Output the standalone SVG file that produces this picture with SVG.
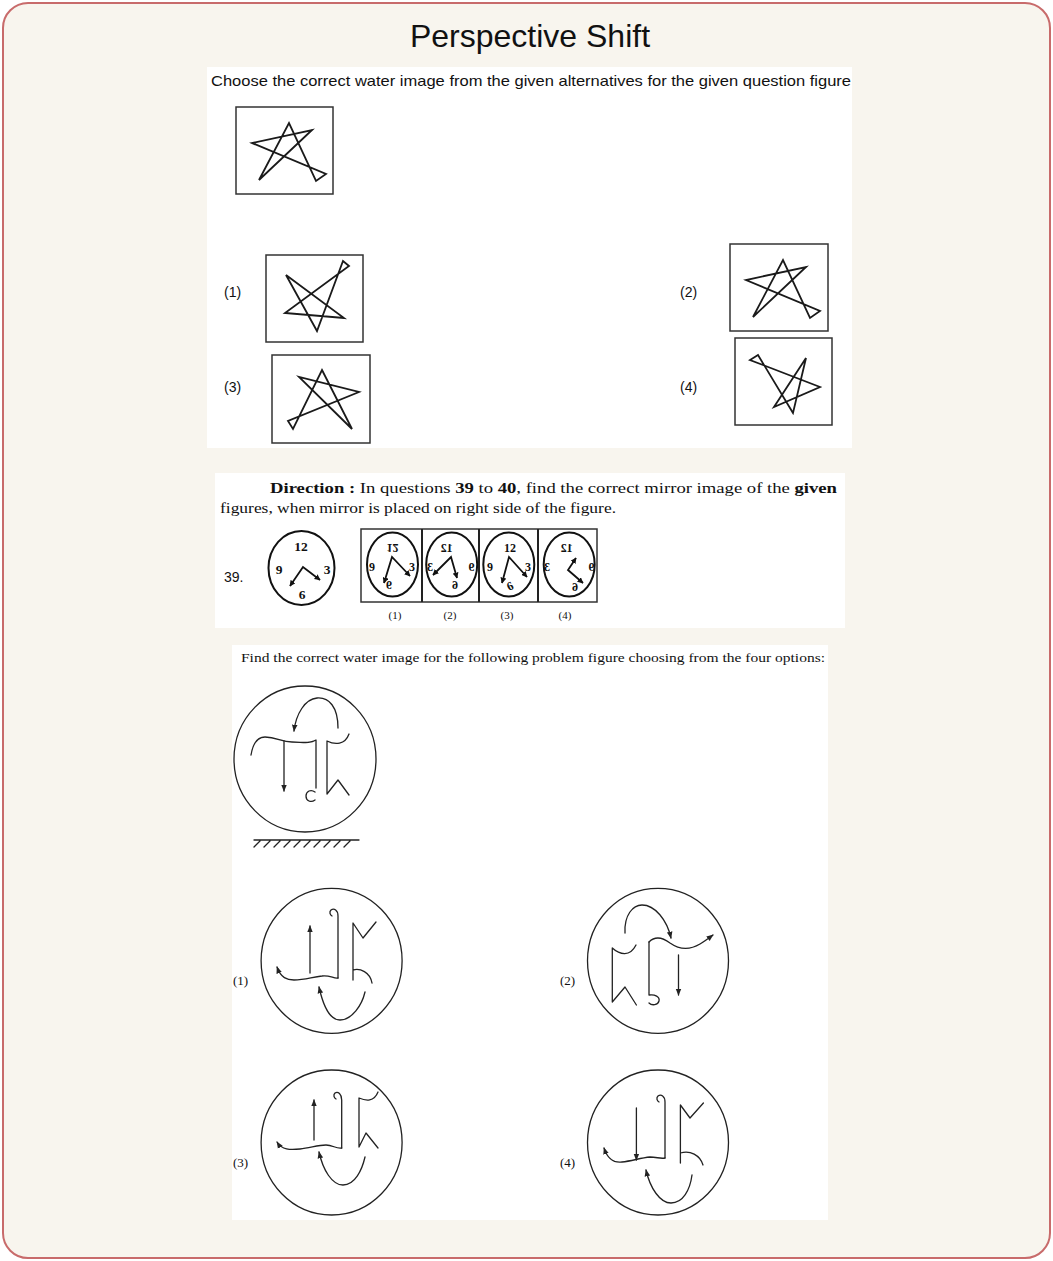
<svg xmlns="http://www.w3.org/2000/svg" width="1053" height="1261" viewBox="0 0 1053 1261">
<style>
.bg{fill:#f8f5ee;stroke:#c86b6b;stroke-width:2}
.panel{fill:#ffffff}
.box{fill:none;stroke:#333;stroke-width:1.5}
.star{fill:none;stroke:#1a1a1a;stroke-width:1.8;stroke-linejoin:miter}
.sans{font-family:"Liberation Sans",Arial,sans-serif;fill:#111}
.serif{font-family:"Liberation Serif","Times New Roman",serif;fill:#111}
.clk{fill:none;stroke:#111;stroke-width:2}
.hand{fill:none;stroke:#111;stroke-width:1.8}
.num{font-family:"Liberation Serif","Times New Roman",serif;font-weight:bold;font-size:13.5px;text-anchor:middle;fill:#111}
.cnum{font-family:"Liberation Serif","Times New Roman",serif;font-weight:bold;font-size:12px;text-anchor:middle;fill:#111}
.ln{fill:none;stroke:#222;stroke-width:1.3;stroke-linecap:round;stroke-linejoin:round}
.circ{fill:none;stroke:#222;stroke-width:1.3}
</style>
<defs>
<marker id="ah" viewBox="0 0 10 10" refX="9" refY="5" markerWidth="7" markerHeight="7" markerUnits="userSpaceOnUse" orient="auto-start-reverse"><path d="M0,1 L10,5 L0,9 z" fill="#222"/></marker>
<marker id="ah2" viewBox="0 0 10 10" refX="9" refY="5" markerWidth="6" markerHeight="6" markerUnits="userSpaceOnUse" orient="auto-start-reverse"><path d="M0,0 L10,5 L0,10 z" fill="#111"/></marker>
</defs>

<rect class="bg" x="3" y="3" width="1047" height="1255" rx="25" ry="25"/>
<text class="sans" x="530" y="47" font-size="32" text-anchor="middle">Perspective Shift</text>

<!-- Panel 1: stars -->
<g id="panel-stars">
<rect class="panel" x="207" y="67" width="645" height="381"/>
<text class="sans" x="211" y="86" font-size="14.5" textLength="640" lengthAdjust="spacingAndGlyphs">Choose the correct water image from the given alternatives for the given question figure</text>
<g id="star-question">
<rect class="box" x="236" y="107" width="97" height="87"/>
<path class="star" d="M259,180 L289,123 L316,181 L326,174 L252,143 L312,130 Z"/>
</g>
<g id="star-opt1">
<text class="sans" x="224" y="297" font-size="14">(1)</text>
<rect class="box" x="266" y="255" width="97" height="87"/>
<path class="star" d="M286,275 L344,318 L285,313 L349,266 L343,261 L317,331 Z"/>
</g>
<g id="star-opt2">
<text class="sans" x="680" y="297" font-size="14">(2)</text>
<rect class="box" x="730" y="244" width="98" height="87"/>
<path class="star" transform="translate(494,137)" d="M259,180 L289,123 L316,181 L326,174 L252,143 L312,130 Z"/>
</g>
<g id="star-opt3">
<text class="sans" x="224" y="392" font-size="14">(3)</text>
<rect class="box" x="272" y="355" width="98" height="88"/>
<path class="star" d="M322,370 L352,429 L299,377 L359,392 L288,421 L293,429 Z"/>
</g>
<g id="star-opt4">
<text class="sans" x="680" y="392" font-size="14">(4)</text>
<rect class="box" x="735" y="338" width="97" height="87"/>
<path class="star" d="M793,413 L758,355 L750,360 L820,387 L774,407 L806,358 Z"/>
</g>
</g>

<!-- Panel 2: clocks -->
<g id="panel-clocks">
<rect class="panel" x="215" y="473" width="630" height="155"/>
<text class="serif" x="270" y="493" font-size="14" textLength="567" lengthAdjust="spacingAndGlyphs"><tspan font-weight="bold">Direction</tspan> <tspan font-weight="bold">:</tspan> In questions <tspan font-weight="bold">39</tspan> to <tspan font-weight="bold">40</tspan>, find the correct mirror image of the <tspan font-weight="bold">given</tspan></text>
<text class="serif" x="220" y="513" font-size="14" textLength="396" lengthAdjust="spacingAndGlyphs">figures, when mirror is placed on right side of the figure.</text>
<text class="sans" x="224" y="582" font-size="14">39.</text>
<g id="clock-question">
<ellipse class="clk" cx="301.5" cy="568" rx="33" ry="37"/>
<text class="num" x="301" y="551">12</text>
<text class="num" x="279" y="574">9</text>
<text class="num" x="327" y="574">3</text>
<text class="num" x="302" y="599">6</text>
<path class="hand" d="M290,586 L303,567 L320,580" marker-start="url(#ah2)" marker-end="url(#ah2)"/>
</g>
<rect class="box" x="361" y="529" width="236" height="73" stroke-width="2"/>
<line x1="422" y1="529" x2="422" y2="602" stroke="#222" stroke-width="2"/>
<line x1="479" y1="529" x2="479" y2="602" stroke="#222" stroke-width="2"/>
<line x1="538" y1="529" x2="538" y2="602" stroke="#222" stroke-width="2"/>
<g id="clock-opt1">
<ellipse class="clk" cx="392.5" cy="564.5" rx="25.5" ry="32"/>
<text class="cnum" transform="translate(392.5,547.5) scale(1,-1)" y="4">12</text>
<text class="cnum" x="372" y="571">9</text>
<text class="cnum" x="412" y="571">3</text>
<text class="cnum" transform="translate(389,585) scale(1,-1)" y="4">6</text>
<path class="hand" d="M384,583 L392,557 L410,576" marker-start="url(#ah2)" marker-end="url(#ah2)"/>
<text class="serif" x="395" y="619" font-size="11" text-anchor="middle">(1)</text>
</g>
<g id="clock-opt2">
<ellipse class="clk" cx="451.7" cy="564.5" rx="25.5" ry="32"/>
<text class="cnum" transform="translate(446.7,547.5) scale(-1,1)" y="4">12</text>
<text class="cnum" transform="translate(430,567) scale(-1,1)" y="4">3</text>
<text class="cnum" transform="translate(471.5,567) scale(-1,1)" y="4">9</text>
<text class="cnum" transform="translate(455,585) scale(-1,1)" y="4">6</text>
<path class="hand" d="M433,575 L451,557 L457,578" marker-start="url(#ah2)" marker-end="url(#ah2)"/>
<text class="serif" x="450" y="619" font-size="11" text-anchor="middle">(2)</text>
</g>
<g id="clock-opt3">
<ellipse class="clk" cx="508.8" cy="564.5" rx="25.5" ry="32"/>
<text class="cnum" x="510" y="551.5">12</text>
<text class="cnum" x="490" y="571">9</text>
<text class="cnum" x="528" y="571">3</text>
<text class="cnum" transform="translate(510,586) rotate(-25)" y="4">6</text>
<path class="hand" d="M502,583 L509,557 L527,577" marker-start="url(#ah2)" marker-end="url(#ah2)"/>
<text class="serif" x="507" y="619" font-size="11" text-anchor="middle">(3)</text>
</g>
<g id="clock-opt4">
<ellipse class="clk" cx="569.2" cy="564.5" rx="25.5" ry="32"/>
<text class="cnum" transform="translate(566.7,547.5) scale(-1,1)" y="4">12</text>
<text class="cnum" transform="translate(547,567) scale(-1,1)" y="4">3</text>
<text class="cnum" transform="translate(591.5,567) scale(-1,1)" y="4">9</text>
<text class="cnum" transform="translate(575,587) scale(-1,1)" y="4">6</text>
<path class="hand" d="M576,558 L568,570 L583,583" marker-start="url(#ah2)" marker-end="url(#ah2)"/>
<text class="serif" x="565" y="619" font-size="11" text-anchor="middle">(4)</text>
</g>
</g>

<!-- Panel 3: water image figures -->
<g id="panel-water">
<rect class="panel" x="232" y="645" width="596" height="575"/>
<text class="serif" x="241" y="662" font-size="13" textLength="584" lengthAdjust="spacingAndGlyphs">Find the correct water image for the following problem figure choosing from the four options:</text>
<g id="water-question">
<ellipse class="circ" cx="305" cy="759" rx="71" ry="73"/>
<path class="ln" d="M338,728 C338,707 329,697 317,698 C305,699 296,714 294,731" marker-end="url(#ah)"/>
<path class="ln" d="M251,755 C253,743 258,737 265,737 C277,737 281,742 292,742 C303,742 309,744 316,740 L316,788"/>
<path class="ln" d="M315,792 C311,789 306,791 306,796 C306,801 311,803 315,800"/>
<path class="ln" d="M284,741 L284,791" marker-end="url(#ah)"/>
<path class="ln" d="M349,734 C345,745 335,745 327,741 L327,794 L338,780 L349,795"/>
<path class="ln" d="M254,840 L359,840 M260,841 L254,847 M270,841 L264,847 M280,841 L274,847 M290,841 L284,847 M300,841 L294,847 M310,841 L304,847 M320,841 L314,847 M330,841 L324,847 M340,841 L334,847 M350,841 L344,847"/>
</g>
<g id="water-opt1">
<text class="serif" x="233" y="985" font-size="13">(1)</text>
<ellipse class="circ" cx="331.6" cy="960.8" rx="70.5" ry="72.5"/>
<path class="ln" d="M310,973 L310,926" marker-end="url(#ah)"/>
<path class="ln" d="M277,967 C281,978 287,980 294,980 C305,980 312,977 322,976 C330,975 334,979 338,978" marker-start="url(#ah)"/>
<path class="ln" d="M338,978 L338,916 C338,910 334,908 331,910 C329,912 330,915 332,916"/>
<path class="ln" d="M376,922 L363,938 L353,923 L353,980 M353,970 C360,968 370,972 372,983"/>
<path class="ln" d="M319,987 C323,1005 330,1020 340,1020 C352,1020 362,1005 365,992" marker-start="url(#ah)"/>
</g>
<g id="water-opt2">
<text class="serif" x="560" y="985" font-size="13">(2)</text>
<ellipse class="circ" cx="658" cy="960.8" rx="70.5" ry="72.5"/>
<path class="ln" d="M625,933 C624,915 633,905 642,905 C655,905 667,920 671,938" marker-end="url(#ah)"/>
<path class="ln" d="M636,945 C630,957 620,955 612.3,948 L612.3,1002 L625,987 L636.4,1005"/>
<path class="ln" d="M649,942 L649,995 C655,994 660,997 659,1001 C658,1005 652,1006 649,1003"/>
<path class="ln" d="M649,942 C655,936 662,937 670,943 C680,950 690,950 700,944 C705,941 709,938 713,935" marker-end="url(#ah)"/>
<path class="ln" d="M678.5,955 L678.5,995" marker-end="url(#ah)"/>
</g>
<g id="water-opt3">
<text class="serif" x="233" y="1167" font-size="13">(3)</text>
<ellipse class="circ" cx="331.6" cy="1142.5" rx="70.5" ry="72.5"/>
<path class="ln" d="M314,1140 L314,1100" marker-end="url(#ah)"/>
<path class="ln" d="M277,1142 C282,1150 290,1150 300,1149 C310,1148 318,1145 326,1145 C333,1145 336,1149 341.7,1148" marker-start="url(#ah)"/>
<path class="ln" d="M341.7,1148 L341.7,1100 C341.7,1094 338,1091 335,1093 C333,1095 334,1098 336,1099"/>
<path class="ln" d="M378,1092 C374,1102 366,1101 359,1098 L359,1147 L366,1133 L378,1148"/>
<path class="ln" d="M319,1152 C323,1170 332,1185 343,1185 C355,1185 362,1170 365,1157" marker-start="url(#ah)"/>
</g>
<g id="water-opt4">
<text class="serif" x="560" y="1167" font-size="13">(4)</text>
<ellipse class="circ" cx="658" cy="1142.5" rx="70.5" ry="72.5"/>
<path class="ln" d="M636.4,1108 L636.4,1160" marker-end="url(#ah)"/>
<path class="ln" d="M604,1148 C608,1160 614,1163 622,1162 C632,1161 640,1158 650,1157 C657,1157 660,1159 665,1158" marker-start="url(#ah)"/>
<path class="ln" d="M665,1158 L665,1102 C665,1096 661,1094 658,1096 C656,1098 657,1101 659,1102"/>
<path class="ln" d="M703.4,1103 L690,1118 L680.4,1105 L680.4,1163 M680.4,1153 C690,1150 700,1155 703,1165"/>
<path class="ln" d="M646,1170 C650,1188 660,1203 671,1203 C683,1203 690,1190 692,1175" marker-start="url(#ah)"/>
</g>
</g>
</svg>
